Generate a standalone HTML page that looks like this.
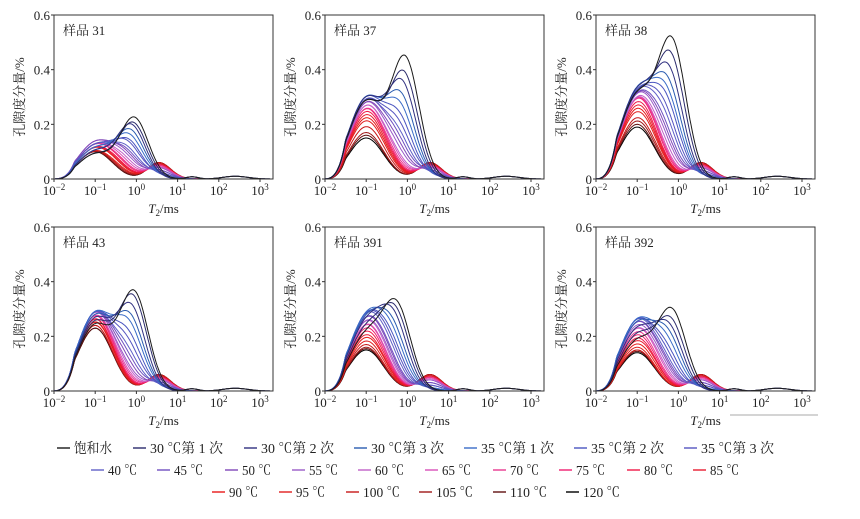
<!DOCTYPE html>
<html><head><meta charset="utf-8">
<style>
body{margin:0;background:#fff;}
svg text{font-family:"Liberation Serif","Noto Serif CJK SC",serif;fill:#222;}
</style></head>
<body>
<svg id="fig" width="860" height="514" viewBox="0 0 860 514" xmlns="http://www.w3.org/2000/svg"></svg>
<script>
const names=["饱和水","30 ℃第 1 次","30 ℃第 2 次","30 ℃第 3 次","35 ℃第 1 次","35 ℃第 2 次","35 ℃第 3 次","40 ℃","45 ℃","50 ℃","55 ℃","60 ℃","65 ℃","70 ℃","75 ℃","80 ℃","85 ℃","90 ℃","95 ℃","100 ℃","105 ℃","110 ℃","120 ℃"];
const colors=["#1a1a1a","#2b2b6b","#303080","#2a5cb0","#3a6cc8","#4a55c0","#5555c0","#6060c8","#7050c0","#8048b8","#9a5ac8","#c060c8","#d850b8","#e83890","#f02070","#f01848","#e81c30","#e81818","#e02020","#c81818","#a01818","#601010","#000000"];
const panelTitles=["样品 31","样品 37","样品 38","样品 43","样品 391","样品 392"];
const mainPos=[-0.05,-0.08,-0.12,-0.15,-0.18,-0.2,-0.23,-0.25,-0.28,-0.3,-0.32,-0.35,-0.38,-0.4,-0.42,-0.45,-0.45,-0.45,-0.45,-0.45,-0.45,-0.45,-0.45];
const latePeak=[0,0,0,0.005,0.01,0.01,0.02,0.02,0.03,0.03,0.04,0.04,0.045,0.05,0.05,0.05,0.055,0.055,0.055,0.06,0.06,0.06,0.06];
const panelShift=[0,0,-0.1,0,-0.2,-0.1];
const smallPeak31=[0.09,0.09,0.10,0.10,0.11,0.11,0.12,0.12,0.12,0.13,0.13,0.12,0.12,0.12,0.12,0.11,0.11,0.11,0.10,0.10,0.10,0.10,0.10];
const mainPeak31=[0.22,0.20,0.19,0.17,0.15,0.13,0.12,0.10,0.09,0.08,0.07,0.06,0.05,0.04,0.035,0.03,0.025,0.02,0.015,0.01,0.005,0,0];
const smallPeak37=[0.28,0.28,0.29,0.29,0.29,0.29,0.28,0.28,0.28,0.27,0.27,0.26,0.26,0.25,0.25,0.24,0.23,0.22,0.21,0.19,0.17,0.16,0.15];
const mainPeak37=[0.43,0.37,0.33,0.28,0.24,0.2,0.17,0.14,0.12,0.1,0.08,0.06,0.05,0.04,0.03,0.025,0.02,0.015,0.01,0.005,0,0,0];
const smallPeak38=[0.30,0.30,0.31,0.31,0.31,0.30,0.30,0.30,0.29,0.29,0.29,0.28,0.28,0.28,0.28,0.27,0.26,0.25,0.24,0.22,0.21,0.20,0.19];
const mainPeak38=[0.48,0.42,0.36,0.31,0.27,0.24,0.20,0.17,0.14,0.12,0.10,0.08,0.06,0.05,0.04,0.03,0.025,0.02,0.015,0.01,0.005,0,0];
const smallPeak43=[0.24,0.25,0.26,0.27,0.28,0.28,0.28,0.28,0.28,0.28,0.28,0.28,0.27,0.27,0.27,0.26,0.26,0.25,0.25,0.24,0.24,0.23,0.23];
const mainPeak43=[0.35,0.33,0.29,0.25,0.22,0.18,0.15,0.12,0.10,0.08,0.06,0.05,0.04,0.03,0.02,0.015,0.01,0.01,0.005,0,0,0,0];
const smallPeak391=[0.20,0.22,0.24,0.25,0.26,0.26,0.26,0.26,0.25,0.25,0.24,0.24,0.23,0.23,0.22,0.21,0.20,0.19,0.18,0.17,0.16,0.155,0.15];
const mainPeak391=[0.29,0.26,0.23,0.19,0.16,0.13,0.11,0.09,0.07,0.06,0.05,0.04,0.03,0.025,0.02,0.015,0.01,0.01,0.005,0,0,0,0];
const smallPeak392=[0.18,0.20,0.22,0.24,0.25,0.25,0.25,0.25,0.24,0.24,0.23,0.22,0.22,0.21,0.20,0.19,0.18,0.17,0.16,0.15,0.15,0.145,0.14];
const mainPeak392=[0.28,0.24,0.21,0.18,0.15,0.12,0.10,0.08,0.07,0.06,0.05,0.04,0.03,0.02,0.015,0.01,0.01,0.005,0,0,0,0,0];
const smallPeaks=[smallPeak31,smallPeak37,smallPeak38,smallPeak43,smallPeak391,smallPeak392];
const mainPeaks=[mainPeak31,mainPeak37,mainPeak38,mainPeak43,mainPeak391,mainPeak392];
const yTicks=[0,0.2,0.4,0.6];
const yTickLabels=["0","0.2","0.4","0.6"];
const xTicks=[-2,-1,0,1,2,3];

const NS="http://www.w3.org/2000/svg";
const svg=document.getElementById('fig');
function mk(tag,attrs,parent){const e=document.createElementNS(NS,tag);for(const k in attrs)e.setAttribute(k,attrs[k]);(parent||svg).appendChild(e);return e;}
const lefts=[54,325,596],tops=[15,227],W=219,H=164,dec=41.2;
function g(x,m,s){const z=(x-m)/s;return Math.exp(-z*z/2);}
for(let p=0;p<6;p++){
  const L=lefts[p%3],T=tops[Math.floor(p/3)];
  const grp=mk('g',{});
  
  
  const xs=v=>L+(v+2)*dec;
  const ys=v=>T+H-v/0.6*H;
  const cp=mk('clipPath',{id:'c'+p},grp);mk('rect',{x:L,y:T,width:W,height:H},cp);
  const cg=mk('g',{'clip-path':'url(#c'+p+')'},grp);
  for(let s=names.length-1;s>=0;s--){
    let d='';
    for(let i=0;i<=220;i++){
      const x=-2+i*(5.4/220);
      let v=smallPeaks[p][s]*g(x,-1,0.42)+mainPeaks[p][s]*g(x,mainPos[s]+panelShift[p],0.34)+latePeak[s]*g(x,0.55,0.28);
      if(s<3)v+=0.008*g(x,1.35,0.15)+0.01*g(x,2.4,0.3);
      v*=Math.pow(Math.min(1,Math.max(0,(x+2)/0.5)),1.5);
      d+=(i?'L':'M')+xs(x).toFixed(1)+' '+ys(v).toFixed(1);
    }
    const path=mk('path',{d:d,fill:'none',stroke:colors[s],'stroke-width':1},cg);
    
    
  }
  const frame=mk('rect',{x:L,y:T,width:W,height:H,fill:'none',stroke:'#333','stroke-width':1},grp);
  
  
  yTicks.forEach((t,i)=>{
    mk('line',{x1:L-3,x2:L,y1:ys(t),y2:ys(t),stroke:'#333'},grp);
    const tx=mk('text',{x:L-4,y:ys(t)+5,'text-anchor':'end','font-size':13},grp);tx.textContent=yTickLabels[i];
    
    
  });
  xTicks.forEach(t=>{
    mk('line',{x1:xs(t),x2:xs(t),y1:T+H,y2:T+H+3,stroke:'#333'},grp);
    const tx=mk('text',{x:xs(t),y:T+H+16,'text-anchor':'middle','font-size':13},grp);
    
    
    tx.textContent='10';const sp=mk('tspan',{dy:-5,'font-size':9},tx);sp.textContent=(t<0?'−':'')+Math.abs(t);
  });
  const xt=mk('text',{x:L+W/2,y:T+H+34,'text-anchor':'middle','font-size':13},grp);
  
  
  const it=mk('tspan',{'font-style':'italic'},xt);it.textContent='T';
  const sb=mk('tspan',{dy:3,'font-size':9},xt);sb.textContent='2';
  const rs=mk('tspan',{dy:-3},xt);rs.textContent='/ms';
  const yt=mk('text',{x:0,y:0,'text-anchor':'middle','font-size':13,transform:'translate('+(L-30)+','+(T+H/2)+') rotate(-90)'},grp);
  yt.textContent='孔隙度分量/%';
  
  
  const pt=mk('text',{x:L+9,y:T+20,'font-size':13},grp);pt.textContent=panelTitles[p];
  
  
}
mk('line',{x1:730,x2:818,y1:415,y2:415,stroke:'#aaa','stroke-width':1});
const legRows=[[448,[57,133,244,354,464,574,684]],[470,[91,157,225,292,358,425,493,559,627,693]],[492,[212,279,346,419,493,566]]];
let k=0;
legRows.forEach(r=>{r[1].forEach(x=>{
  const lg=mk('g',{});
  
  
  mk('line',{x1:x,x2:x+13,y1:r[0],y2:r[0],stroke:colors[k],'stroke-width':1.4},lg);
  const nm=names[k];
  const tl=nm==='饱和水'?38:(nm.indexOf('次')>=0?73:(nm.length>=5?37:29));
  const t=mk('text',{x:x+17,y:r[0]+5,'font-size':14,textLength:tl,lengthAdjust:'spacingAndGlyphs'},lg);t.textContent=nm;
  k++;
});});
</script>
</body></html>
